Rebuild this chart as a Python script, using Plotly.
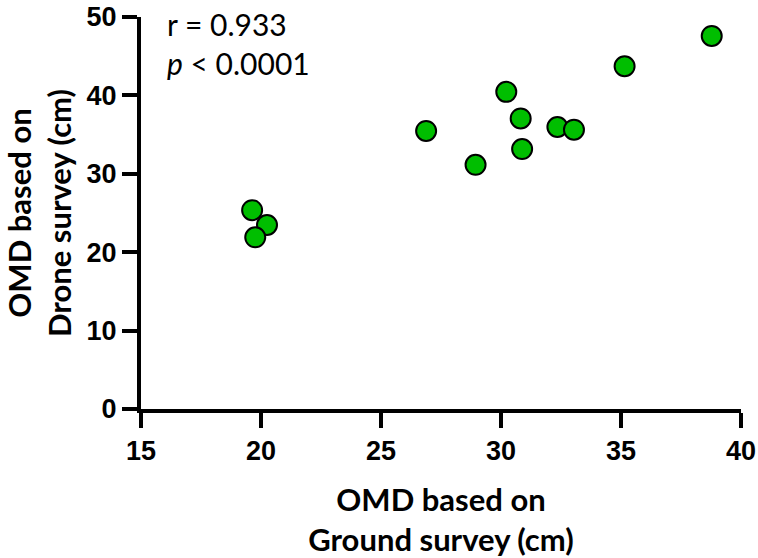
import plotly.graph_objects as go

# Data
ground_cm = [19.63, 20.25, 19.76, 26.88, 28.94, 30.22, 30.82, 30.88, 32.35, 33.04, 35.15, 38.78]
drone_cm = [25.36, 23.47, 21.90, 35.47, 31.15, 40.45, 37.06, 33.16, 35.97, 35.63, 43.72, 47.58]

x_ticks = [15, 20, 25, 30, 35, 40]
y_ticks = [0, 10, 20, 30, 40, 50]

x_title = "OMD based on<br>Ground survey (cm)"
y_title = "OMD based on<br>Drone survey (cm)"
stats_text = "r = 0.933<br><i>p</i> &lt; 0.0001"

fig = go.Figure()
fig.add_trace(go.Scatter(
    x=ground_cm, y=drone_cm, mode="markers",
    marker=dict(size=20, color="#00BE00", line=dict(color="black", width=2)),
    cliponaxis=False, showlegend=False,
))

tick_font = dict(family="Liberation Sans, Arial, sans-serif", size=27, color="black", weight="bold")
title_font = dict(family="Lato, Open Sans, sans-serif", size=31, color="black", weight="bold")

fig.update_layout(
    width=758, height=558,
    margin=dict(l=141, r=17, t=17, b=149, autoexpand=False),
    plot_bgcolor="white", paper_bgcolor="white",
    xaxis=dict(
        range=[15, 40], tickvals=x_ticks, ticktext=[str(v) for v in x_ticks],
        showgrid=False, zeroline=False, showline=True, linecolor="black", linewidth=4,
        ticks="outside", ticklen=15, tickwidth=4, tickcolor="black",
        tickfont=tick_font, ticklabeloverflow="allow", automargin=False,
        title=dict(text=x_title, font=title_font, standoff=33),
    ),
    yaxis=dict(
        range=[0, 50], tickvals=y_ticks, ticktext=[str(v) for v in y_ticks],
        showgrid=False, zeroline=False, showline=True, linecolor="black", linewidth=4,
        ticks="outside", ticklen=15, tickwidth=4, tickcolor="black",
        tickfont=tick_font, ticklabeloverflow="allow", automargin=False,
        title=dict(text=y_title, font=title_font, standoff=20),
    ),
    annotations=[dict(
        text=stats_text, xref="paper", yref="paper", x=0.04, y=1.0, yshift=13,
        xanchor="left", yanchor="top", align="left", showarrow=False,
        font=dict(family="Lato, Open Sans, sans-serif", size=30, color="black"),
    )],
)

fig.write_html("out.html")
